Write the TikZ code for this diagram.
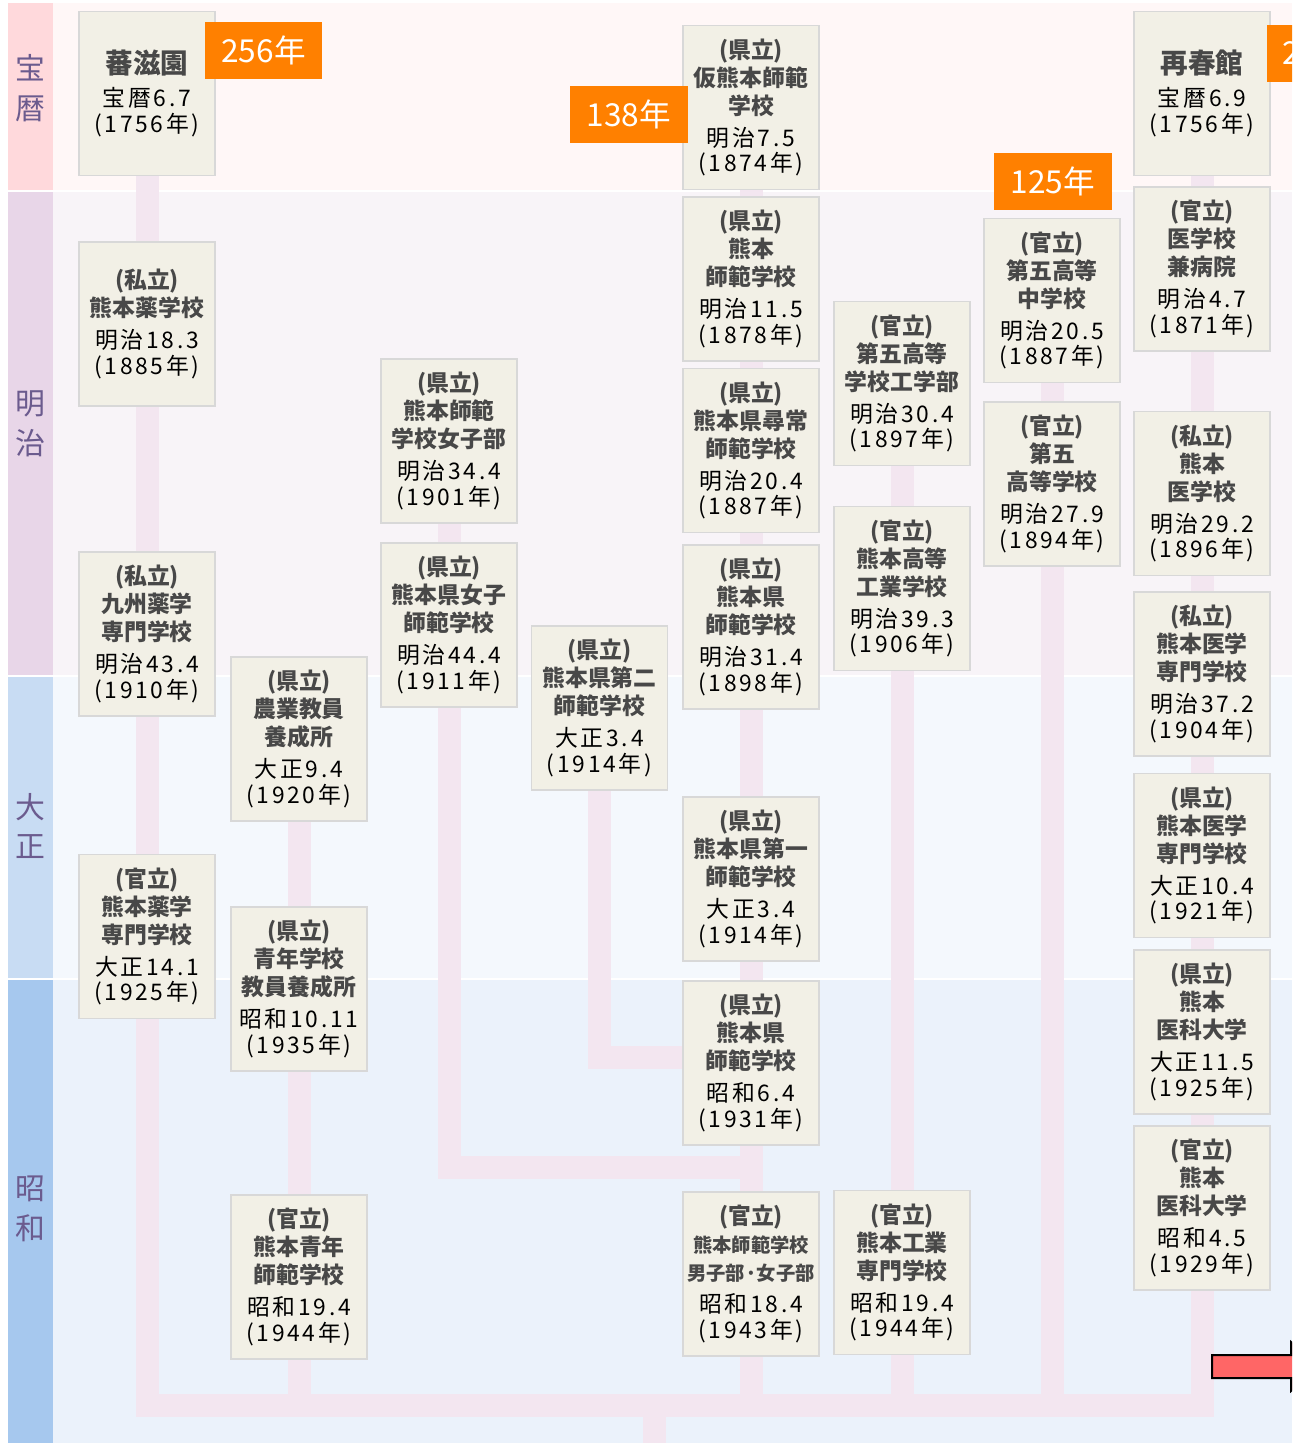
\documentclass[tikz,border=0pt]{standalone}
\usepackage{fontspec}
\setmainfont{Noto Sans CJK JP}
\newfontfamily\datefont[LetterSpace=12]{Noto Sans CJK JP}

\definecolor{hoStrip}{HTML}{FFD9DC}
\definecolor{hoBack}{HTML}{FFF7F7}
\definecolor{meiStrip}{HTML}{E8D6E8}
\definecolor{meiBack}{HTML}{F8F4F8}
\definecolor{taiStrip}{HTML}{C8DCF3}
\definecolor{taiBack}{HTML}{F4F8FD}
\definecolor{shoStrip}{HTML}{A6C8EE}
\definecolor{shoBack}{HTML}{EBF2FB}
\definecolor{eratext}{HTML}{6B5B8E}
\definecolor{boxfill}{HTML}{F2F0E6}
\definecolor{boxline}{HTML}{D8D8D8}
\definecolor{namegrey}{HTML}{484848}
\definecolor{linkpink}{HTML}{F3E6F0}
\definecolor{tagorange}{HTML}{FF8000}
\definecolor{arrowred}{HTML}{FF6666}

\pgfdeclarelayer{bands}
\pgfdeclarelayer{links}
\pgfsetlayers{bands,links,main}

\newcommand\dt{\color{black}\mdseries\datefont\fontsize{13}{16}\selectfont}

\begin{document}
\begin{tikzpicture}[x=0.02cm,y=-0.02cm]
\tikzstyle{school}=[draw=boxline,line width=0.9pt,fill=boxfill,
                    minimum width=2.72cm,minimum height=3.28cm,text width=2.6cm,
                    align=center,inner sep=0pt,text=namegrey,
                    font=\fontsize{13}{16}\selectfont\bfseries]
\tikzstyle{tag}=[fill=tagorange,text=white,minimum width=2.36cm,minimum height=1.14cm,
                 inner sep=0pt,font=\fontsize{18}{20}\selectfont]
\tikzstyle{era}=[text=eratext,align=center,font=\fontsize{17}{22.7}\selectfont]
\tikzstyle{link}=[draw=linkpink,line width=0.46cm]

\useasboundingbox (0,0) rectangle (1292,1446);

% era bands
\begin{pgfonlayer}{bands}
\fill[hoStrip]  (8,3)   rectangle (53,190);
\fill[hoBack]   (53,3)  rectangle (1292,190);
\fill[meiStrip] (8,192) rectangle (53,675);
\fill[meiBack]  (53,192) rectangle (1292,675);
\fill[taiStrip] (8,677) rectangle (53,978);
\fill[taiBack]  (53,677) rectangle (1292,978);
\fill[shoStrip] (8,980) rectangle (53,1443);
\fill[shoBack]  (53,980) rectangle (1292,1443);
\end{pgfonlayer}

\node[era] (hoeki) at (30,88)   {宝\\暦};
\node[era] (meiji) at (30,424)  {明\\治};
\node[era] (taisho) at (30,826) {大\\正};
\node[era] (showa) at (30,1209) {昭\\和};

% pharmacy
\node[school] (banjien)  at (147,93.5)  {{\fontsize{15.7}{18}\selectfont 蕃滋園}\\[3pt]\dt 宝暦6.7\\[-1.3pt](1756年)};
\node[school] (kumayaku) at (147,324)   {(私立)\\熊本薬学校\\[2pt]\dt 明治18.3\\[-1.3pt](1885年)};
\node[school] (kyushu)   at (147,634)   {(私立)\\九州薬学\\専門学校\\[2pt]\dt 明治43.4\\[-1.3pt](1910年)};
\node[school] (yakusen)  at (147,936.5) {(官立)\\熊本薬学\\専門学校\\[2pt]\dt 大正14.1\\[-1.3pt](1925年)};

% youth teachers
\node[school] (nogyo)    at (299,739)   {(県立)\\農業教員\\養成所\\[2pt]\dt 大正9.4\\[-1.3pt](1920年)};
\node[school] (seinen)   at (299,989)   {(県立)\\青年学校\\教員養成所\\[2pt]\dt 昭和10.11\\[-1.3pt](1935年)};
\node[school] (seishi)   at (299,1277)  {(官立)\\熊本青年\\師範学校\\[2pt]\dt 昭和19.4\\[-1.3pt](1944年)};

% normal schools
\node[school] (joshibu)  at (449,441)   {(県立)\\熊本師範\\学校女子部\\[2pt]\dt 明治34.4\\[-1.3pt](1901年)};
\node[school] (joshi)    at (449,625)   {(県立)\\熊本県女子\\師範学校\\[2pt]\dt 明治44.4\\[-1.3pt](1911年)};
\node[school] (daini)    at (599.5,708) {(県立)\\熊本県第二\\師範学校\\[2pt]\dt 大正3.4\\[-1.3pt](1914年)};

\node[school] (karishi)  at (751,107.5) {(県立)\\仮熊本師範\\学校\\[2pt]\dt 明治7.5\\[-1.3pt](1874年)};
\node[school] (shihan)   at (751,279)   {(県立)\\熊本\\師範学校\\[2pt]\dt 明治11.5\\[-1.3pt](1878年)};
\node[school] (jinjo)    at (751,450.5) {(県立)\\熊本県尋常\\師範学校\\[2pt]\dt 明治20.4\\[-1.3pt](1887年)};
\node[school] (kenshi)   at (751,627)   {(県立)\\熊本県\\師範学校\\[2pt]\dt 明治31.4\\[-1.3pt](1898年)};
\node[school] (daiichi)  at (751,879)   {(県立)\\熊本県第一\\師範学校\\[2pt]\dt 大正3.4\\[-1.3pt](1914年)};
\node[school] (kenshiB)  at (751,1063)  {(県立)\\熊本県\\師範学校\\[2pt]\dt 昭和6.4\\[-1.3pt](1931年)};
\node[school] (kanshi)   at (751,1274)  {(官立)\\{\fontsize{11}{16}\selectfont 熊本師範学校\\男子部·女子部}\\[2pt]\dt 昭和18.4\\[-1.3pt](1943年)};

% engineering
\node[school] (kogakubu) at (902,383.5) {(官立)\\第五高等\\学校工学部\\[2pt]\dt 明治30.4\\[-1.3pt](1897年)};
\node[school] (koko)     at (902,588.5) {(官立)\\熊本高等\\工業学校\\[2pt]\dt 明治39.3\\[-1.3pt](1906年)};
\node[school] (kosen)    at (902,1272.5){(官立)\\熊本工業\\専門学校\\[2pt]\dt 昭和19.4\\[-1.3pt](1944年)};

% fifth high school
\node[school] (godaichu) at (1052,300.5){(官立)\\第五高等\\中学校\\[2pt]\dt 明治20.5\\[-1.3pt](1887年)};
\node[school] (godai)    at (1052,484)  {(官立)\\第五\\高等学校\\[2pt]\dt 明治27.9\\[-1.3pt](1894年)};

% medicine
\node[school] (saishun)  at (1202,93.5) {{\fontsize{15.7}{18}\selectfont 再春館}\\[3pt]\dt 宝暦6.9\\[-1.3pt](1756年)};
\node[school] (igakko)   at (1202,269)  {(官立)\\医学校\\兼病院\\[2pt]\dt 明治4.7\\[-1.3pt](1871年)};
\node[school] (kumaiga)  at (1202,493.5){(私立)\\熊本\\医学校\\[2pt]\dt 明治29.2\\[-1.3pt](1896年)};
\node[school] (isenA)    at (1202,674)  {(私立)\\熊本医学\\専門学校\\[2pt]\dt 明治37.2\\[-1.3pt](1904年)};
\node[school] (isenB)    at (1202,855.5){(県立)\\熊本医学\\専門学校\\[2pt]\dt 大正10.4\\[-1.3pt](1921年)};
\node[school] (ikadaiA)  at (1202,1032) {(県立)\\熊本\\医科大学\\[2pt]\dt 大正11.5\\[-1.3pt](1925年)};
\node[school] (ikadaiB)  at (1202,1208) {(官立)\\熊本\\医科大学\\[2pt]\dt 昭和4.5\\[-1.3pt](1929年)};

% years
\node[tag] (yrA) at (263.5,50.5) {256年};
\node[tag] (yrB) at (629,114.5)  {138年};
\node[tag] (yrC) at (1053,181.5) {125年};

\coordinate (merge) at (654.5,1405.5);
\coordinate (out)   at (654.5,1443);
\coordinate (jn3)   at (751,1167.5);
\coordinate (jn4)   at (751,1057.5);

\begin{pgfonlayer}{links}
\draw[link] (banjien) -- (kumayaku) -- (kyushu) -- (yakusen) |- (merge);
\draw[link] (nogyo) -- (seinen) -- (seishi) -- (seishi |- merge);
\draw[link] (joshibu) -- (joshi) |- (jn3);
\draw[link] (daini) |- (jn4);
\draw[link] (karishi) -- (shihan) -- (jinjo) -- (kenshi) -- (daiichi) -- (kenshiB) -- (kanshi) -- (kanshi |- merge);
\draw[link] (kogakubu) -- (koko) -- (kosen) -- (kosen |- merge);
\draw[link] (godaichu) -- (godai) -- (godai |- merge);
\draw[link] (saishun) -- (igakko) -- (kumaiga) -- (isenA) -- (isenB) -- (ikadaiA) -- (ikadaiB) |- (merge);
\draw[link] (merge) -- (out);
\end{pgfonlayer}

% cut at right edge
\begin{scope}
\clip (0,0) rectangle (1292,1446);
\node[tag,anchor=west,text width=1.76cm,align=left,inner xsep=0.3cm] (yrD) at (1267,53.5) {2};
\filldraw[fill=arrowred,draw=black,line width=0.04cm]
  (1212,1355) -- (1291,1355) -- (1291,1342) -- (1320,1366.5) -- (1291,1391) -- (1291,1378) -- (1212,1378) -- cycle;
\end{scope}
\end{tikzpicture}
\end{document}
